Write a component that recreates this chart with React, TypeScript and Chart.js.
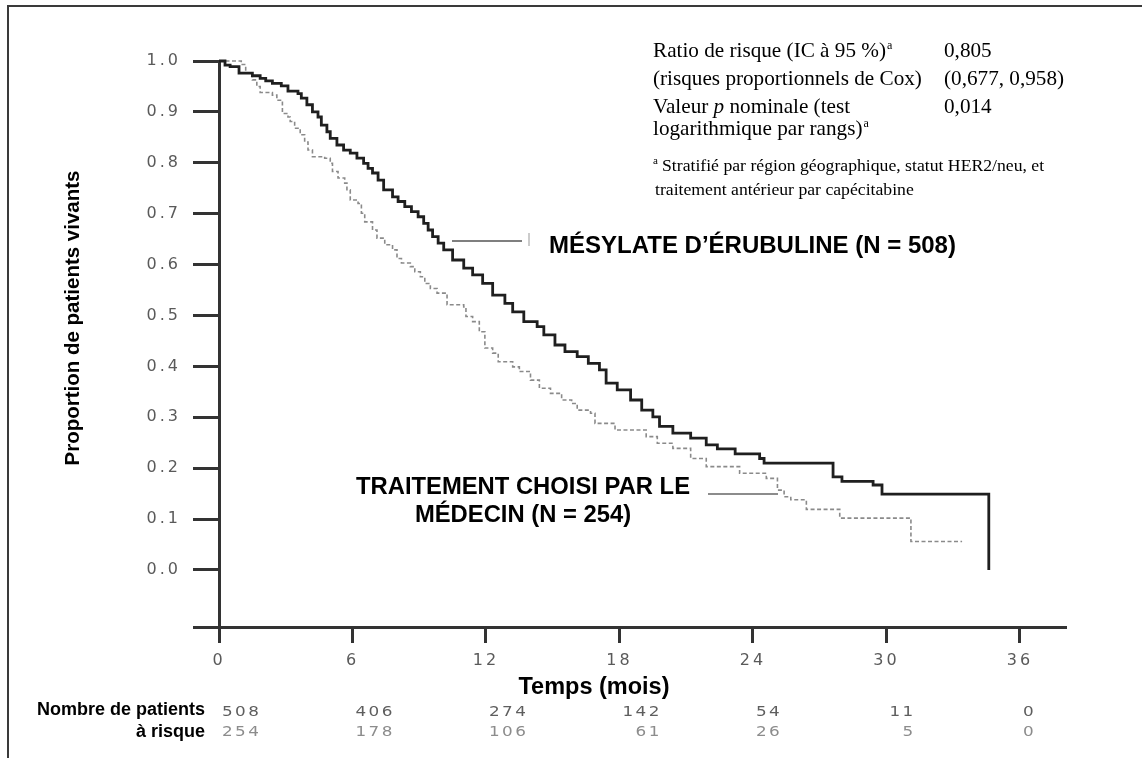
import React, { useEffect, useRef } from "react";
import { Chart, registerables } from "chart.js";

Chart.register(...registerables);

// ---------- data ----------
const X_TICKS = [0, 6, 12, 18, 24, 30, 36];
const Y_TICKS = [0, 0.1, 0.2, 0.3, 0.4, 0.5, 0.6, 0.7, 0.8, 0.9, 1.0];

// Eribulin (solid) – time of each drop (months) and survival after the drop
const ERI_T = [0, 0.27, 0.5, 0.9, 1.5, 1.85, 2.1, 2.4, 2.8, 3.1, 3.55, 3.7, 3.95, 4.2, 4.45, 4.6, 4.85, 5.0, 5.3, 5.6, 5.9, 6.2, 6.5, 6.7, 6.9, 7.15, 7.4, 7.8, 8.05, 8.35, 8.65, 8.95, 9.2, 9.4, 9.6, 9.85, 10.1, 10.5, 11.0, 11.4, 11.85, 12.3, 12.85, 13.2, 13.7, 14.3, 14.6, 15.1, 15.55, 16.1, 16.6, 17.1, 17.4, 17.9, 18.5, 19.0, 19.5, 19.8, 20.4, 21.2, 21.9, 22.4, 23.2, 24.3, 24.5, 27.6, 28.0, 29.4, 29.8, 34.6];
const ERI_S = [1.0, 0.992, 0.989, 0.976, 0.971, 0.966, 0.961, 0.956, 0.951, 0.941, 0.936, 0.927, 0.914, 0.9, 0.89, 0.874, 0.861, 0.848, 0.835, 0.825, 0.819, 0.809, 0.799, 0.789, 0.78, 0.766, 0.747, 0.733, 0.724, 0.714, 0.704, 0.694, 0.681, 0.668, 0.655, 0.642, 0.629, 0.609, 0.593, 0.58, 0.563, 0.54, 0.524, 0.507, 0.488, 0.478, 0.462, 0.442, 0.429, 0.419, 0.406, 0.393, 0.367, 0.354, 0.334, 0.314, 0.301, 0.282, 0.269, 0.259, 0.246, 0.238, 0.228, 0.219, 0.21, 0.183, 0.174, 0.167, 0.149, 0.0];

// Treatment of physician's choice (dashed)
const TPC_T = [0, 1.0, 1.2, 1.5, 1.7, 1.85, 2.4, 2.6, 2.85, 3.1, 3.2, 3.4, 3.65, 3.85, 4.0, 4.2, 4.75, 5.0, 5.1, 5.35, 5.65, 5.75, 5.9, 6.25, 6.4, 6.55, 6.9, 7.1, 7.45, 7.8, 8.0, 8.2, 8.6, 8.8, 9.05, 9.25, 9.5, 9.8, 10.25, 11.0, 11.1, 11.4, 11.7, 11.95, 12.3, 12.55, 13.2, 13.5, 14.0, 14.4, 14.9, 15.4, 15.85, 16.1, 16.7, 16.9, 17.8, 19.2, 19.7, 20.4, 21.2, 21.9, 23.4, 24.6, 25.1, 25.4, 25.7, 26.4, 27.9, 31.1, 33.4];
const TPC_S = [1.0, 0.993, 0.977, 0.963, 0.95, 0.938, 0.933, 0.923, 0.897, 0.89, 0.881, 0.868, 0.855, 0.841, 0.825, 0.812, 0.809, 0.799, 0.783, 0.77, 0.76, 0.747, 0.727, 0.72, 0.701, 0.684, 0.668, 0.652, 0.639, 0.629, 0.612, 0.603, 0.596, 0.586, 0.576, 0.563, 0.553, 0.544, 0.521, 0.517, 0.498, 0.488, 0.468, 0.436, 0.426, 0.409, 0.399, 0.39, 0.373, 0.357, 0.347, 0.334, 0.327, 0.314, 0.308, 0.288, 0.275, 0.262, 0.249, 0.239, 0.219, 0.203, 0.19, 0.18, 0.157, 0.144, 0.138, 0.119, 0.102, 0.056, 0.056];

const RISK_ERI = ["508", "406", "274", "142", "54", "11", "0"];
const RISK_TPC = ["254", "178", "106", "61", "26", "5", "0"];

const LABEL_ERI = "MÉSYLATE D’ÉRUBULINE (N = 508)";
const LABEL_TPC = ["TRAITEMENT CHOISI PAR LE", "MÉDECIN (N = 254)"];
const Y_TITLE = "Proportion de patients vivants";
const X_TITLE = "Temps (mois)";
const RISK_TITLE = ["Nombre de patients", "à risque"];

const STAT_LEFT = ["Ratio de risque (IC à 95 %)", "(risques proportionnels de Cox)", "Valeur |p| nominale (test", "logarithmique par rangs)"];
const STAT_SUP = [true, false, false, true];
const STAT_RIGHT = ["0,805", "(0,677, 0,958)", "0,014", ""];
const FOOTNOTE = ["Stratifié par région géographique, statut HER2/neu, et", "traitement antérieur par capécitabine"];

const SANS = '"Liberation Sans", Arial, Helvetica, sans-serif';
const WIDE = '"DejaVu Sans", Verdana, sans-serif';
const SERIF = '"Liberation Serif", "Times New Roman", serif';

function drawMixed(ctx: CanvasRenderingContext2D, text: string, x: number, y: number, size: number) {
  const parts = text.split("|");
  let cx = x;
  parts.forEach((p, i) => {
    ctx.font = `${i % 2 === 1 ? "italic " : ""}${size}px ${SERIF}`;
    ctx.fillText(p, cx, y);
    cx += ctx.measureText(p).width;
  });
  return cx;
}

const overlay = {
  id: "overlay",
  beforeDraw(chart: any) {
    const ctx = chart.ctx as CanvasRenderingContext2D;
    ctx.save();
    ctx.fillStyle = "#ffffff";
    ctx.fillRect(0, 0, chart.width, chart.height);
    ctx.restore();
    (ctx as any).letterSpacing = "3px";
  },
  afterDraw(chart: any) {
    const ctx = chart.ctx as CanvasRenderingContext2D;
    (ctx as any).letterSpacing = "0px";
    const xs = chart.scales.x;
    const area = chart.chartArea;
    ctx.save();

    // outer frame
    ctx.strokeStyle = "#3a3a3a";
    ctx.lineWidth = 2;
    ctx.beginPath();
    ctx.moveTo(8, chart.height);
    ctx.lineTo(8, 6);
    ctx.lineTo(chart.width, 6);
    ctx.stroke();

    // x axis extension to the left of the y axis
    ctx.strokeStyle = "#333";
    ctx.lineWidth = 3;
    ctx.beginPath();
    ctx.moveTo(area.left - 26, area.bottom + 0.5);
    ctx.lineTo(area.left, area.bottom + 0.5);
    ctx.stroke();

    ctx.fillStyle = "#000";
    // y title
    ctx.save();
    ctx.translate(73, 318);
    ctx.rotate(-Math.PI / 2);
    ctx.font = `bold 20.5px ${SANS}`;
    ctx.textAlign = "center";
    ctx.textBaseline = "middle";
    ctx.fillText(Y_TITLE, 0, 0);
    ctx.restore();

    // x title
    ctx.font = `bold 23.5px ${SANS}`;
    ctx.textAlign = "center";
    ctx.textBaseline = "middle";
    ctx.fillText(X_TITLE, 594, 688);

    // risk table
    ctx.textBaseline = "alphabetic";
    ctx.font = `bold 18px ${SANS}`;
    ctx.textAlign = "right";
    ctx.fillText(RISK_TITLE[0], 205, 715);
    ctx.fillText(RISK_TITLE[1], 205, 736.5);
    const SX = 1.2;
    ctx.font = `14px ${WIDE}`;
    (ctx as any).letterSpacing = "2px";
    X_TICKS.forEach((t, i) => {
      const x0 = xs.getPixelForValue(t) + 3;
      const w = ctx.measureText(RISK_ERI[i]).width * SX;
      ctx.save();
      ctx.scale(SX, 1);
      ctx.textAlign = "left";
      ctx.fillStyle = "#5e5e5e";
      ctx.fillText(RISK_ERI[i], x0 / SX, 716);
      ctx.textAlign = "right";
      ctx.fillStyle = "#8c8c8c";
      ctx.fillText(RISK_TPC[i], (x0 + w) / SX, 736);
      ctx.restore();
    });
    (ctx as any).letterSpacing = "0px";

    // curve labels
    ctx.fillStyle = "#000";
    ctx.font = `bold 24px ${SANS}`;
    ctx.textAlign = "left";
    ctx.fillText(LABEL_ERI, 549, 252.5);
    ctx.font = `bold 23.8px ${SANS}`;
    ctx.textAlign = "center";
    ctx.fillText(LABEL_TPC[0], 523, 493.5);
    ctx.fillText(LABEL_TPC[1], 523, 521.5);

    // leader lines
    ctx.strokeStyle = "#555";
    ctx.lineWidth = 1.5;
    ctx.beginPath();
    ctx.moveTo(452, 241);
    ctx.lineTo(522, 241);
    ctx.stroke();
    ctx.strokeStyle = "#999";
    ctx.lineWidth = 1;
    ctx.beginPath();
    ctx.moveTo(529, 233);
    ctx.lineTo(529, 246);
    ctx.stroke();
    ctx.strokeStyle = "#8c8c8c";
    ctx.lineWidth = 2;
    ctx.beginPath();
    ctx.moveTo(708, 494);
    ctx.lineTo(778, 494);
    ctx.stroke();

    // statistics box
    ctx.fillStyle = "#000";
    ctx.textAlign = "left";
    const rowsY = [57, 85, 113, 135];
    STAT_LEFT.forEach((s, i) => {
      const end = drawMixed(ctx, s, 653, rowsY[i], 21.2);
      if (STAT_SUP[i]) {
        ctx.font = `12px ${SERIF}`;
        ctx.fillText("a", end + 1, rowsY[i] - 8);
      }
      if (STAT_RIGHT[i]) {
        ctx.font = `21.2px ${SERIF}`;
        ctx.fillText(STAT_RIGHT[i], 944, rowsY[i]);
      }
    });
    ctx.font = `11px ${SERIF}`;
    ctx.fillText("a", 653, 164);
    ctx.font = `17.7px ${SERIF}`;
    ctx.fillText(FOOTNOTE[0], 662, 171);
    ctx.fillText(FOOTNOTE[1], 655, 195);

    ctx.restore();
  },
};

export default function App() {
  const ref = useRef<HTMLCanvasElement | null>(null);
  useEffect(() => {
    if (!ref.current) return;
    const chart = new Chart(ref.current, {
      type: "line",
      data: {
        datasets: [
          {
            label: "Mésylate d’éribuline",
            data: ERI_T.map((t, i) => ({ x: t, y: ERI_S[i] })),
            borderColor: "#1f1f1f",
            borderWidth: 2.8,
            stepped: true,
            pointRadius: 0,
            fill: false,
            clip: false as any,
          },
          {
            label: "Traitement choisi par le médecin",
            data: TPC_T.map((t, i) => ({ x: t, y: TPC_S[i] })),
            borderColor: "#8a8a8a",
            borderWidth: 1.6,
            borderDash: [4, 2.5],
            stepped: true,
            pointRadius: 0,
            fill: false,
            clip: false as any,
          },
        ],
      },
      options: {
        animation: false,
        responsive: false,
        layout: { padding: { left: 0, top: 61, right: 76, bottom: 0 } },
        plugins: { legend: { display: false }, tooltip: { enabled: false }, title: { display: false } },
        scales: {
          x: {
            type: "linear",
            min: 0,
            max: 38.07,
            afterBuildTicks: (s: any) => {
              s.ticks = X_TICKS.map((v) => ({ value: v }));
            },
            afterFit: (s: any) => {
              s.height = 131;
            },
            grid: { drawOnChartArea: false, drawTicks: true, tickLength: 16, tickWidth: 3, tickColor: "#333" },
            border: { display: true, color: "#333", width: 3 },
            ticks: {
              color: "#5a5a5a",
              font: { family: WIDE, size: 16 },
              padding: 8,
              maxRotation: 0,
              autoSkip: false,
              callback: (v: any) => String(v),
            },
          },
          y: {
            type: "linear",
            min: -0.112,
            max: 1.0,
            afterBuildTicks: (s: any) => {
              s.ticks = Y_TICKS.map((v) => ({ value: v }));
            },
            afterFit: (s: any) => {
              s.width = 219;
            },
            grid: { drawOnChartArea: false, drawTicks: true, tickLength: 26, tickWidth: 3, tickColor: "#333" },
            border: { display: true, color: "#333", width: 3 },
            ticks: {
              color: "#5a5a5a",
              font: { family: WIDE, size: 16 },
              padding: 12,
              autoSkip: false,
              callback: (v: any) => Number(v).toFixed(1),
            },
          },
        },
      },
      plugins: [overlay],
    });
    return () => chart.destroy();
  }, []);
  return (
    <div style={{ position: "fixed", left: 0, top: 0, width: 1142, height: 758, background: "#fff" }}>
      <canvas ref={ref} width={1142} height={758} style={{ display: "block", width: 1142, height: 758 }} />
    </div>
  );
}
